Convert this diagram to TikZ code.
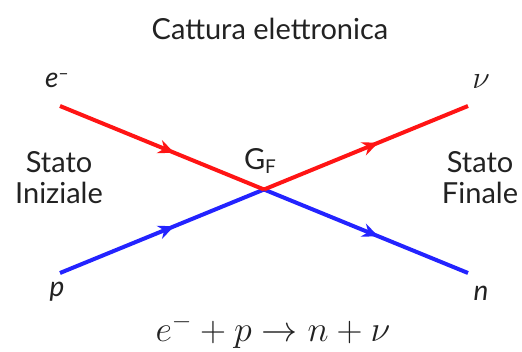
\RequirePackage{fix-cm}
\documentclass[tikz,border=0pt]{standalone}
\usepackage{fontspec}
\setmainfont{Lato}
\usetikzlibrary{arrows.meta,decorations.markings}
\definecolor{lred}{RGB}{255,20,20}
\definecolor{lblue}{RGB}{35,35,255}
\definecolor{txt}{RGB}{34,34,34}
\newcommand{\supminus}{\raisebox{0.55ex}{\fontsize{18}{18}\selectfont\upshape –}}
\begin{document}
\begin{tikzpicture}[x=1pt,y=-1pt,
  prop/.style={line width=4pt,
    postaction={decorate,decoration={markings,
      mark=at position 0.56 with {\arrow{Stealth[length=16pt,width=14pt]}}}}},
  lbl/.style={text=txt,font=\fontsize{29}{31}\selectfont,align=center,inner sep=0pt},
  ilbl/.style={text=txt,font=\fontsize{28}{31}\selectfont\itshape,inner sep=0pt},
  mlbl/.style={text=txt,font=\fontsize{32}{36}\selectfont,inner sep=0pt}]
\useasboundingbox (0,0) rectangle (522,352);
\coordinate (A) at (60,106);
\coordinate (B) at (468,106);
\coordinate (C) at (60,273);
\coordinate (D) at (468,273);
\coordinate (O) at (264,189.5);
\draw[prop,lblue] (C) -- (O);
\draw[prop,lblue] (O) -- (D);
\draw[prop,lred] (A) -- (O);
\draw[prop,lred] (O) -- (B);
\node[lbl] (title) at (270,29) {Cattura elettronica};
\node[ilbl] (e) at (57,80) {e\supminus};
\node[mlbl] (nu) at (481,82) {$\nu$};
\node[ilbl] (p) at (57,292) {p};
\node[ilbl] (n) at (481,293) {n};
\node[lbl] (si) at (59,178) {Stato\\Iniziale};
\node[lbl] (sf) at (480,178) {Stato\\Finale};
\node[lbl] (gf) at (260,161) {G\raisebox{-0.25ex}{\fontsize{19}{20}\selectfont F}};
\node[mlbl,font=\fontsize{36}{40}\selectfont] (eq) at (273,331) {$e^{-}+p\rightarrow n+\nu$};
\end{tikzpicture}
\end{document}
